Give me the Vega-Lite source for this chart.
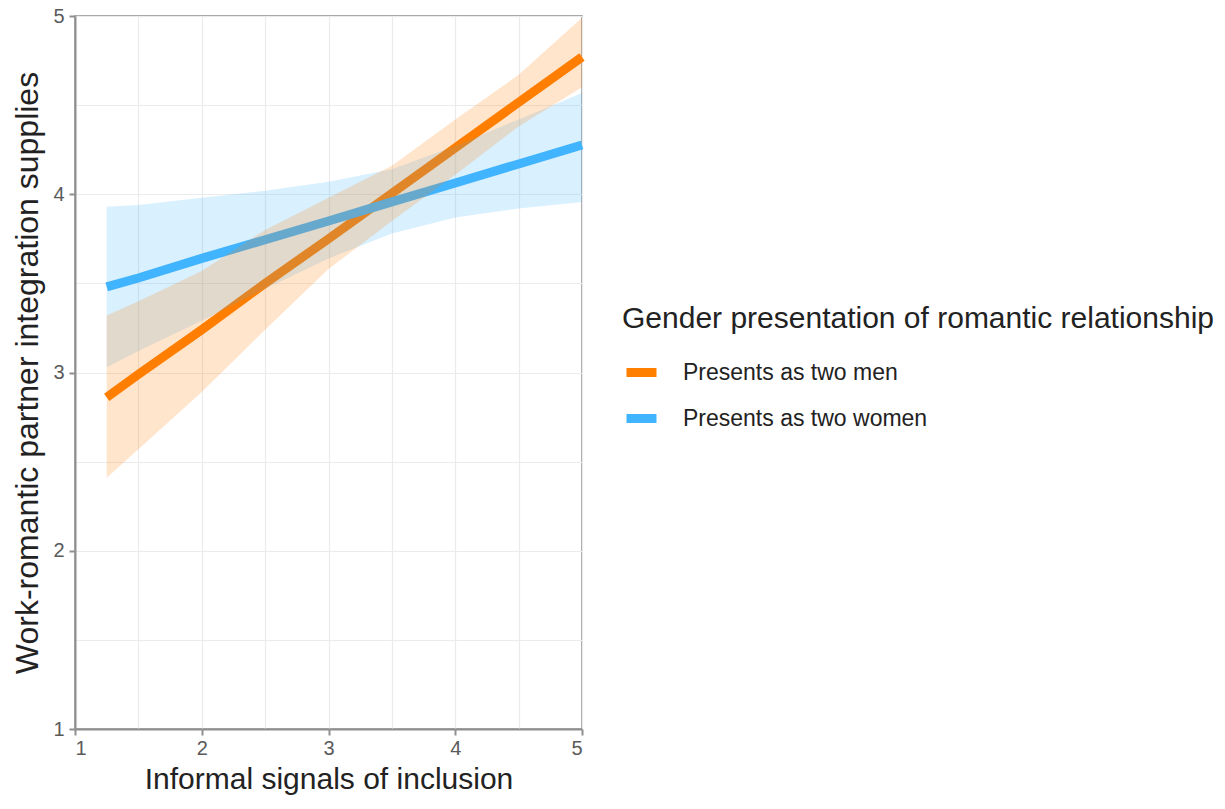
{
  "$schema": "https://vega.github.io/schema/vega-lite/v6.json",
  "width": 507,
  "height": 713,
  "autosize": "none",
  "padding": {"left": 75, "top": 16, "right": 643, "bottom": 80},
  "background": "white",
  "config": {
    "font": "Liberation Sans",
    "view": {"stroke": "#8f8f8f", "strokeWidth": 1.5},
    "axis": {
      "domainColor": "#8f8f8f",
      "domainWidth": 2,
      "tickColor": "#8f8f8f",
      "tickWidth": 2,
      "tickSize": 6,
      "gridColor": "#ebebeb",
      "gridWidth": 1.2,
      "labelColor": "#5a5a5a",
      "labelFontSize": 20,
      "labelFont": "Liberation Sans",
      "titleFont": "Liberation Sans",
      "titleFontWeight": "normal",
      "titleColor": "#222222"
    }
  },
  "data": {
    "values": [
      {"group": "Presents as two men", "x": 1.25, "lower": 2.41, "fit": 2.86, "upper": 3.32},
      {"group": "Presents as two men", "x": 1.5, "lower": 2.57, "fit": 2.99, "upper": 3.40},
      {"group": "Presents as two men", "x": 2, "lower": 2.89, "fit": 3.24, "upper": 3.57},
      {"group": "Presents as two men", "x": 2.5, "lower": 3.24, "fit": 3.50, "upper": 3.80},
      {"group": "Presents as two men", "x": 3, "lower": 3.58, "fit": 3.75, "upper": 3.98},
      {"group": "Presents as two men", "x": 3.5, "lower": 3.85, "fit": 4.005, "upper": 4.16},
      {"group": "Presents as two men", "x": 4, "lower": 4.11, "fit": 4.26, "upper": 4.42},
      {"group": "Presents as two men", "x": 4.5, "lower": 4.38, "fit": 4.515, "upper": 4.67},
      {"group": "Presents as two men", "x": 5, "lower": 4.60, "fit": 4.77, "upper": 4.99},
      {"group": "Presents as two women", "x": 1.25, "lower": 3.03, "fit": 3.48, "upper": 3.93},
      {"group": "Presents as two women", "x": 1.5, "lower": 3.12, "fit": 3.53, "upper": 3.94},
      {"group": "Presents as two women", "x": 2, "lower": 3.29, "fit": 3.64, "upper": 3.98},
      {"group": "Presents as two women", "x": 2.5, "lower": 3.47, "fit": 3.745, "upper": 4.02},
      {"group": "Presents as two women", "x": 3, "lower": 3.64, "fit": 3.85, "upper": 4.07},
      {"group": "Presents as two women", "x": 3.5, "lower": 3.78, "fit": 3.957, "upper": 4.14},
      {"group": "Presents as two women", "x": 4, "lower": 3.87, "fit": 4.063, "upper": 4.27},
      {"group": "Presents as two women", "x": 4.5, "lower": 3.92, "fit": 4.17, "upper": 4.42},
      {"group": "Presents as two women", "x": 5, "lower": 3.957, "fit": 4.276, "upper": 4.568}
    ]
  },
  "encoding": {
    "x": {
      "field": "x",
      "type": "quantitative",
      "scale": {"domain": [1, 5], "nice": false, "zero": false},
      "axis": {
        "title": "Informal signals of inclusion",
        "titleFontSize": 30,
        "values": [1, 1.5, 2, 2.5, 3, 3.5, 4, 4.5, 5],
        "labelExpr": "datum.value % 1 === 0 ? format(datum.value, 'd') : ''",
        "tickOpacity": {"condition": {"test": "datum.value % 1 === 0", "value": 1}, "value": 0},
        "labelPadding": 3,
        "titlePadding": 6
      }
    }
  },
  "layer": [
    {
      "mark": {"type": "line", "strokeWidth": 9, "strokeCap": "butt"},
      "encoding": {
        "y": {
          "field": "fit",
          "type": "quantitative",
          "scale": {"domain": [1, 5], "nice": false, "zero": false},
          "axis": {
            "title": "Work-romantic partner integration supplies",
            "titleFontSize": 32,
            "titleLimit": 800,
            "values": [1, 1.5, 2, 2.5, 3, 3.5, 4, 4.5, 5],
            "labelExpr": "datum.value % 1 === 0 ? format(datum.value, 'd') : ''",
            "tickOpacity": {"condition": {"test": "datum.value % 1 === 0", "value": 1}, "value": 0},
            "labelPadding": 5,
            "titlePadding": 8
          }
        },
        "color": {
          "field": "group",
          "type": "nominal",
          "scale": {
            "domain": ["Presents as two men", "Presents as two women"],
            "range": ["#ff7f00", "#40b4ff"]
          },
          "legend": {
            "title": "Gender presentation of romantic relationship",
            "orient": "none",
            "legendX": 547,
            "legendY": 288,
            "titleFontSize": 30,
            "titleFontWeight": "normal",
            "titleColor": "#222222",
            "titleLimit": 800,
            "titlePadding": 19,
            "labelFontSize": 23,
            "labelLimit": 500,
            "labelColor": "#222222",
            "symbolType": "stroke",
            "symbolSize": 900,
            "symbolStrokeWidth": 9,
            "rowPadding": 8,
            "labelOffset": 22
          }
        }
      }
    },
    {
      "transform": [{"filter": "datum.group === 'Presents as two women'"}],
      "mark": {"type": "area", "opacity": 0.2},
      "encoding": {
        "y": {"field": "lower", "type": "quantitative"},
        "y2": {"field": "upper"},
        "fill": {
          "field": "group",
          "type": "nominal",
          "scale": {
            "domain": ["Presents as two men", "Presents as two women"],
            "range": ["#ff7f00", "#40b4ff"]
          },
          "legend": null
        }
      }
    },
    {
      "transform": [{"filter": "datum.group === 'Presents as two men'"}],
      "mark": {"type": "area", "opacity": 0.2},
      "encoding": {
        "y": {"field": "lower", "type": "quantitative"},
        "y2": {"field": "upper"},
        "fill": {
          "field": "group",
          "type": "nominal",
          "legend": null
        }
      }
    }
  ]
}
